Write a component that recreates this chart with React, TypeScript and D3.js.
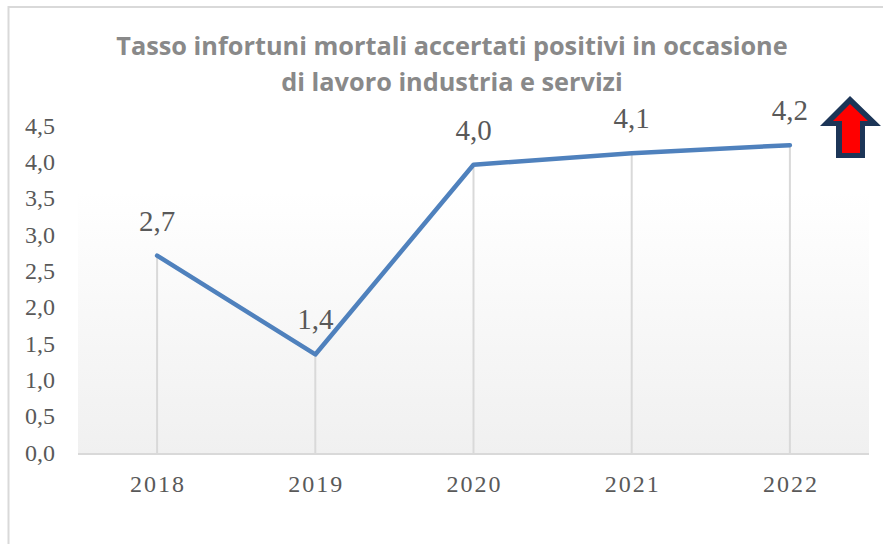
import React from "react";
import * as d3 from "d3";

const years = ["2018", "2019", "2020", "2021", "2022"];
const rates = [2.73, 1.37, 3.98, 4.14, 4.25];
const shownLabels = ["2,7", "1,4", "4,0", "4,1", "4,2"];
const yTicks = [0, 0.5, 1, 1.5, 2, 2.5, 3, 3.5, 4, 4.5];
const titleLines = ["Tasso infortuni mortali accertati positivi in occasione", "di lavoro industria e servizi"];

const W = 883, H = 544;
const left = 78, right = 869, top = 127, bottom = 454;
const serif = "'Liberation Serif', serif";

export default function App() {
  const x = d3.scaleBand<string>().domain(years).range([left, right]);
  const y = d3.scaleLinear().domain([0, 4.5]).range([bottom, top]);
  const cx = (d: string) => (x(d) as number) + x.bandwidth() / 2;
  const line = d3.line<number>().x((_, i) => cx(years[i])).y((d) => y(d));
  return (
    <svg width={W} height={H} style={{ position: "fixed", left: 0, top: 0, background: "#fff" }}>
      <defs>
        <linearGradient id="bg" x1="0" y1="0" x2="0" y2="1">
          <stop offset="0" stopColor="#ffffff" />
          <stop offset="0.2" stopColor="#ffffff" />
          <stop offset="1" stopColor="#f0f0f0" />
        </linearGradient>
      </defs>
      <path d={`M8.5,${H}V7H${W}`} fill="none" stroke="#d9d9d9" strokeWidth={2} />
      <rect x={left} y={top} width={right - left} height={bottom - top} fill="url(#bg)" />
      {years.map((d, i) => (
        <line key={d} x1={cx(d)} x2={cx(d)} y1={y(rates[i])} y2={bottom} stroke="#d9d9d9" strokeWidth={2} />
      ))}
      <line x1={left} x2={right} y1={bottom} y2={bottom} stroke="#d9d9d9" strokeWidth={2} />
      <path d={line(rates) ?? ""} fill="none" stroke="#4f81bd" strokeWidth={4.5} strokeLinejoin="round" strokeLinecap="round" />
      {titleLines.map((t, i) => (
        <text key={t} x={452} y={55 + i * 36} textAnchor="middle" fontFamily="'Open Sans', sans-serif" fontWeight={700} fontSize={25.3} fill="#898989">{t}</text>
      ))}
      {yTicks.map((t) => (
        <text key={t} x={55} y={y(t) + 6.5} textAnchor="end" fontFamily={serif} fontSize={24} fill="#595959">{d3.format(".1f")(t).replace(".", ",")}</text>
      ))}
      {years.map((d) => (
        <text key={d} x={cx(d) + 1} y={492} textAnchor="middle" fontFamily={serif} fontSize={24} letterSpacing={2} fill="#595959">{d}</text>
      ))}
      {years.map((d, i) => (
        <text key={d} x={cx(d)} y={y(rates[i]) - 25} textAnchor="middle" fontFamily={serif} fontSize={29} fill="#595959">{shownLabels[i]}</text>
      ))}
      <path d="M850,96L881,126H865V158H836V126H820Z" fill="#1c3557" />
      <path d="M850,104L868,121H860V153H842V121H833Z" fill="#ff0000" />
    </svg>
  );
}
